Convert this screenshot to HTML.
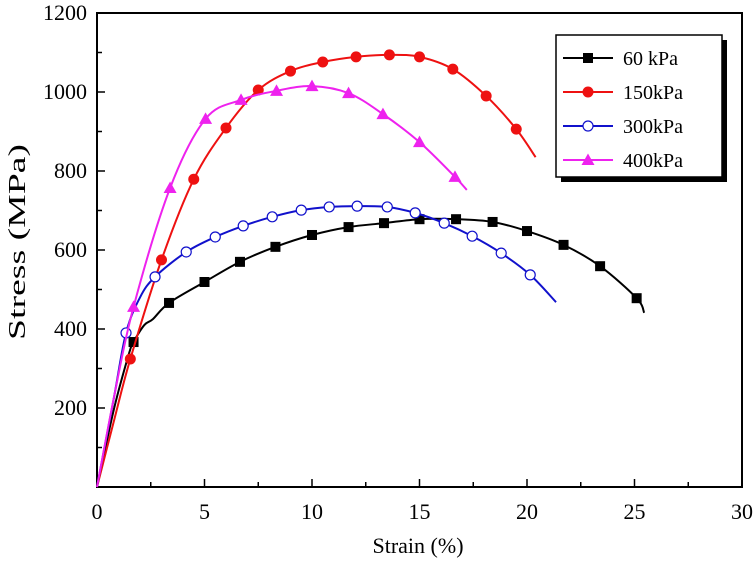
<!DOCTYPE html>
<html><head><meta charset="utf-8"><style>
body{margin:0;background:#fff;}
svg{display:block;font-family:"Liberation Serif",serif;}
</style></head><body>
<svg id="chart" width="756" height="565" viewBox="0 0 756 565"></svg>
<script>
const xTicks=[0,5,10,15,20,25,30];
const yTicks=[200,400,600,800,1000,1200];
const seriesNames=["60 kPa","150kPa","300kPa","400kPa"];
const s60x=[0,0.8,1.5,1.7,2.2,2.6,3.35,5.0,6.65,8.3,10.0,11.7,13.35,15.0,16.7,18.4,20.0,21.7,23.4,25.1,25.45];
const s60y=[0,200,340,367,410,425,466,519,570,608,638,658,668,678,678,671,648,613,559,478,441];
const s60m=[3,6,7,8,9,10,11,12,13,14,15,16,17,18,19];
const s150x=[0,0.8,1.55,3.0,4.5,6.0,7.5,9.0,10.5,12.05,13.6,15.0,16.55,18.1,19.5,20.4];
const s150y=[0,170,324,575,779,909,1005,1053,1076,1089,1094,1089,1058,990,906,835];
const s150m=[2,3,4,5,6,7,8,9,10,11,12,13,14];
const s300x=[0,0.8,1.35,2.0,2.7,4.15,5.5,6.8,8.15,9.5,10.8,12.1,13.5,14.8,16.15,17.45,18.8,20.15,21.35];
const s300y=[0,230,390,480,532,595,633,661,684,701,709,711,709,694,668,635,592,537,468];
const s300m=[2,4,5,6,7,8,9,10,11,12,13,14,15,16,17];
const s400x=[0,0.8,1.7,3.4,5.05,6.7,8.35,10.0,11.7,13.3,15.0,16.65,17.2];
const s400y=[0,230,456,757,932,980,1003,1015,997,944,873,785,752];
const s400m=[2,3,4,5,6,7,8,9,10,11];

const X0=97,X1=742,Y0=487,Y1=13;
const sx=v=>X0+(v/30)*(X1-X0);
const sy=v=>Y0-(v/1200)*(Y0-Y1);
const svg=document.getElementById('chart');
const NS="http://www.w3.org/2000/svg";
function mk(tag,attrs,parent){const e=document.createElementNS(NS,tag);for(const k in attrs)e.setAttribute(k,attrs[k]);(parent||svg).appendChild(e);return e;}

const frame=mk('rect',{x:X0,y:Y1,width:X1-X0,height:Y0-Y1,fill:'none',stroke:'#000','stroke-width':2});



for(let v=0;v<=30;v+=2.5){
  const major=v%5===0;
  const t=mk('line',{x1:sx(v),x2:sx(v),y1:Y0,y2:Y0-(major?8:5),stroke:'#000','stroke-width':1.5});
  
  
}
xTicks.forEach(v=>{
  const t=mk('text',{x:sx(v),y:Y0+32,'text-anchor':'middle','font-size':22});
  t.textContent=v;
  
  
});
for(let v=100;v<=1200;v+=100){
  const major=v%200===0;
  const t=mk('line',{x1:X0,x2:X0+(major?8:5),y1:sy(v),y2:sy(v),stroke:'#000','stroke-width':1.5});
  
  
}
yTicks.forEach(v=>{
  const t=mk('text',{x:X0-10,y:sy(v)+7,'text-anchor':'end','font-size':22});
  t.textContent=v;
  
  
});
const xt=mk('text',{x:418,y:553,'text-anchor':'middle','font-size':22});
xt.textContent='Strain (%)';


const yt=mk('text',{x:0,y:0,'text-anchor':'middle','font-size':24,textLength:196,lengthAdjust:'spacingAndGlyphs',transform:'translate(25,242) rotate(-90)'});
yt.textContent='Stress (MPa)';



function smoothPath(xs,ys){
  const p=xs.map((x,i)=>[sx(x),sy(ys[i])]);
  let d='M'+p[0][0]+','+p[0][1];
  for(let i=0;i<p.length-1;i++){
    const p0=p[Math.max(0,i-1)],p1=p[i],p2=p[i+1],p3=p[Math.min(p.length-1,i+2)];
    const c1=[p1[0]+(p2[0]-p0[0])/6,p1[1]+(p2[1]-p0[1])/6];
    const c2=[p2[0]-(p3[0]-p1[0])/6,p2[1]-(p3[1]-p1[1])/6];
    d+=' C'+c1+' '+c2+' '+p2;
  }
  return d;
}
function marker(type,color,cx,cy,g){
  let e;
  if(type==='square') e=mk('rect',{x:cx-5,y:cy-5,width:10,height:10,fill:'#000'},g);
  else if(type==='circle') e=mk('circle',{cx:cx,cy:cy,r:5.5,fill:color},g);
  else if(type==='open') e=mk('circle',{cx:cx,cy:cy,r:5,fill:'#fff',stroke:color,'stroke-width':1.2},g);
  else e=mk('polygon',{points:`${cx},${cy-6.5} ${cx-6.5},${cy+5} ${cx+6.5},${cy+5}`,fill:color},g);
  return e;
}
const series=[
 {name:'series-60kpa',xs:s60x,ys:s60y,m:s60m,color:'#000',type:'square'},
 {name:'series-150kpa',xs:s150x,ys:s150y,m:s150m,color:'#ee1111',type:'circle'},
 {name:'series-300kpa',xs:s300x,ys:s300y,m:s300m,color:'#1111cc',type:'open'},
 {name:'series-400kpa',xs:s400x,ys:s400y,m:s400m,color:'#ee22ee',type:'tri'}
];
series.forEach(s=>{
  const g=mk('g',{});
  
  
  const path=mk('path',{d:smoothPath(s.xs,s.ys),fill:'none',stroke:s.color,'stroke-width':2},g);
  
  
  s.m.forEach(i=>{
    const e=marker(s.type,s.color,sx(s.xs[i]),sy(s.ys[i]),g);
    
    
  });
});

const lg=mk('g',{});


mk('rect',{x:561,y:40,width:166,height:142,fill:'#000'},lg);
mk('rect',{x:556,y:35,width:166,height:142,fill:'#fff',stroke:'#000','stroke-width':1.5},lg);
seriesNames.forEach((n,i)=>{
  const y=58+i*34;const s=series[i];
  const ent=mk('g',{},lg);
  
  
  mk('line',{x1:563,x2:613,y1:y,y2:y,stroke:s.color,'stroke-width':2},ent);
  marker(s.type,s.color,588,y,ent);
  const t=mk('text',{x:623,y:y+7,'font-size':20},ent);
  t.textContent=n;
});
</script>
</body></html>
